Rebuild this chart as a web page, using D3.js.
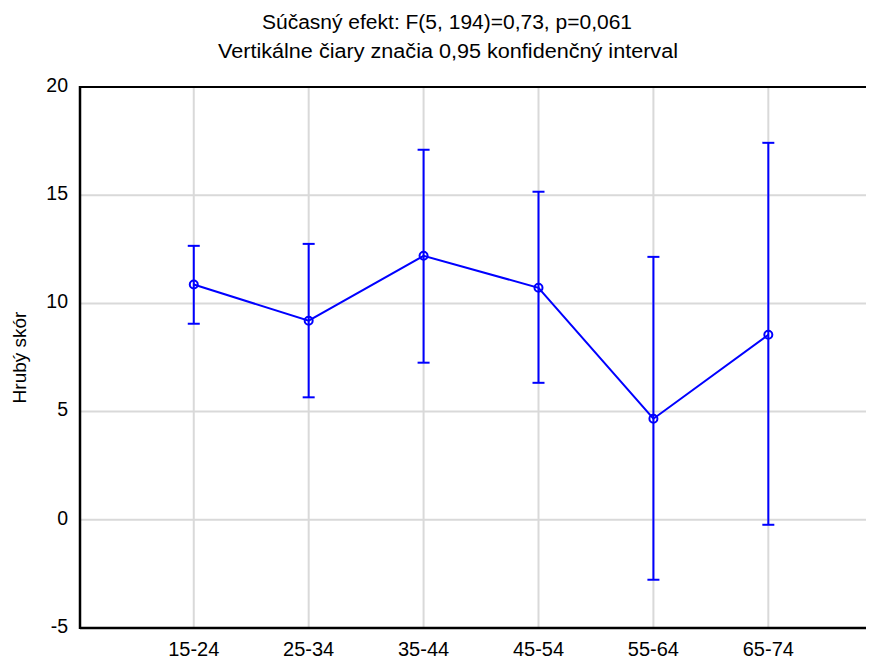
<!DOCTYPE html>
<html><head><meta charset="utf-8">
<script src="https://cdn.jsdelivr.net/npm/d3@7"></script>
<style>body{margin:0;background:#fff}svg{display:block}text{font-family:"Liberation Sans",Arial,sans-serif;fill:#000}</style>
</head><body><svg id="c" width="870" height="660"></svg>
<script>
const categories = ["15-24","25-34","35-44","45-54","55-64","65-74"];
const means = [10.87, 9.2, 12.2, 10.72, 4.67, 8.55];
const upper = [12.66, 12.75, 17.1, 15.16, 12.15, 17.42];
const lower = [9.06, 5.66, 7.26, 6.33, -2.77, -0.23];
const yTicks = [-5, 0, 5, 10, 15, 20];
const title1 = "Súčasný efekt: F(5, 194)=0,73, p=0,061";
const title2 = "Vertikálne čiary značia 0,95 konfidenčný interval";
const yTitle = "Hrubý skór";

const svg = d3.select("#c");
const L = 80, R = 866, T = 87, B = 628;
const x = d3.scaleLinear().domain([0.01, 6.85]).range([L, R]);
const y = d3.scaleLinear().domain([-5, 20]).range([B, T]);
const blue = "#0000ff", grid = "#d9d9d9";

// grid
svg.append("g").selectAll("line").data(yTicks.filter(d => d > -5 && d < 20)).join("line")
  .attr("x1", L).attr("x2", R).attr("y1", d => y(d)).attr("y2", d => y(d))
  .attr("stroke", grid).attr("stroke-width", 2);
svg.append("g").selectAll("line").data(categories).join("line")
  .attr("x1", (d,i) => x(i+1)).attr("x2", (d,i) => x(i+1)).attr("y1", T).attr("y2", B)
  .attr("stroke", grid).attr("stroke-width", 2);

// frame
svg.append("line").attr("x1", L).attr("x2", R).attr("y1", T).attr("y2", T).attr("stroke", "#000").attr("stroke-width", 2);
svg.append("line").attr("x1", L).attr("x2", R).attr("y1", B).attr("y2", B).attr("stroke", "#000").attr("stroke-width", 2.5);
svg.append("line").attr("x1", L).attr("x2", L).attr("y1", T-1).attr("y2", B+1).attr("stroke", "#000").attr("stroke-width", 2.5);

// y tick labels
svg.append("g").selectAll("text").data(yTicks).join("text")
  .attr("x", L - 12).attr("y", d => y(d) - 2).attr("dy", "0.35em")
  .attr("text-anchor", "end").attr("font-size", 19.5).text(d => d);
// x tick labels
svg.append("g").selectAll("text").data(categories).join("text")
  .attr("x", (d,i) => x(i+1)).attr("y", 656)
  .attr("text-anchor", "middle").attr("font-size", 20).text(d => d);

// titles
svg.append("text").attr("x", 447).attr("y", 29).attr("text-anchor", "middle").attr("font-size", 20)
  .attr("textLength", 370).attr("lengthAdjust", "spacingAndGlyphs").text(title1);
svg.append("text").attr("x", 448).attr("y", 58).attr("text-anchor", "middle").attr("font-size", 20)
  .attr("textLength", 460).attr("lengthAdjust", "spacingAndGlyphs").text(title2);
svg.append("text").attr("transform", `translate(26,${(T+B)/2}) rotate(-90)`).attr("text-anchor", "middle").attr("font-size", 19).text(yTitle);

// error bars
const eb = svg.append("g").attr("stroke", blue).attr("stroke-width", 2);
categories.forEach((c, i) => {
  const cx = x(i+1);
  eb.append("line").attr("x1", cx).attr("x2", cx).attr("y1", y(upper[i])).attr("y2", y(lower[i]));
  eb.append("line").attr("x1", cx-6).attr("x2", cx+6).attr("y1", y(upper[i])).attr("y2", y(upper[i]));
  eb.append("line").attr("x1", cx-6).attr("x2", cx+6).attr("y1", y(lower[i])).attr("y2", y(lower[i]));
});
// line
svg.append("path").datum(means)
  .attr("d", d3.line().x((d,i) => x(i+1)).y(d => y(d)))
  .attr("fill", "none").attr("stroke", blue).attr("stroke-width", 2);
svg.append("g").selectAll("circle").data(means).join("circle")
  .attr("cx", (d,i) => x(i+1)).attr("cy", d => y(d)).attr("r", 4)
  .attr("fill", "none").attr("stroke", blue).attr("stroke-width", 2);
</script></body></html>
